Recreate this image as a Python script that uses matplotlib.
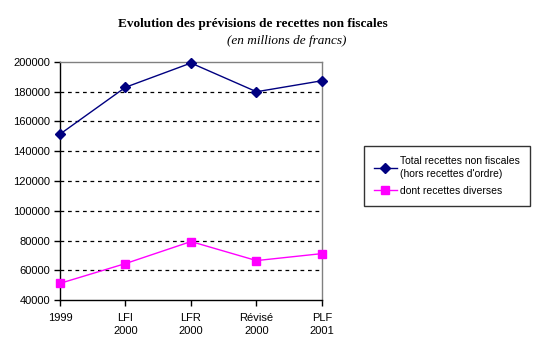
import matplotlib.pyplot as plt
import numpy as np

plt.rcParams['font.family'] = ['Liberation Sans', 'DejaVu Sans']

# Data
categories = ["1999", "LFI\n2000", "LFR\n2000", "Révisé\n2000", "PLF\n2001"]
total_recettes = [151500, 183000, 199300, 180000, 187400]
recettes_diverses = [51200, 64500, 79300, 66500, 71200]
y_ticks = np.arange(40000, 200001, 20000)

navy = "#000080"
magenta = "#FF00FF"

fig = plt.figure(figsize=(5.37, 3.54), dpi=100)
ax = fig.add_axes([0.1117, 0.1525, 0.4879, 0.6724])

x = np.arange(len(categories))
ax.plot(x, total_recettes, color=navy, lw=1, marker='D', ms=5, clip_on=False,
        zorder=3, label="Total recettes non fiscales\n(hors recettes d'ordre)")
ax.plot(x, recettes_diverses, color=magenta, lw=1, marker='s', ms=6, clip_on=False,
        zorder=3, label="dont recettes diverses")

ax.set_xlim(0, len(categories) - 1)
ax.set_ylim(40000, 200000)
ax.set_yticks(y_ticks)
ax.set_yticklabels([str(v) for v in y_ticks], fontsize=8)
ax.set_xticks(x)
ax.set_xticklabels(categories, fontsize=8, linespacing=1.45)
ax.tick_params(axis='y', direction='out', length=4, width=1, color='black', pad=3)
ax.tick_params(axis='x', direction='out', length=4, width=1, color='black', pad=5)

# dashed grid lines
for v in y_ticks[1:-1]:
    ax.axhline(v, color='black', lw=0.9, ls=(0, (3, 3)), zorder=0)

ax.spines['left'].set_color('black')
ax.spines['bottom'].set_color('black')
ax.spines['top'].set_color('#808080')
ax.spines['right'].set_color('#808080')
for s in ax.spines.values():
    s.set_linewidth(1)

fig.text(0.471, 0.932, "Evolution des prévisions de recettes non fiscales",
         family='Liberation Serif', weight='bold', fontsize=9.5,
         ha='center', va='center')
fig.text(0.534, 0.883, "(en millions de francs)",
         family='Liberation Serif', style='italic', fontsize=9.5,
         ha='center', va='center')

leg = fig.legend(loc='upper left', bbox_to_anchor=(0.678, 0.588), fontsize=7.5,
                 frameon=True, fancybox=False, edgecolor='black',
                 handlelength=2.2, handletextpad=0.3, borderpad=0.95,
                 labelspacing=0.65, borderaxespad=0)
leg.get_frame().set_linewidth(1)
for t in leg.get_texts():
    t.set_linespacing(1.45)

fig.savefig("out.png", dpi=100)
